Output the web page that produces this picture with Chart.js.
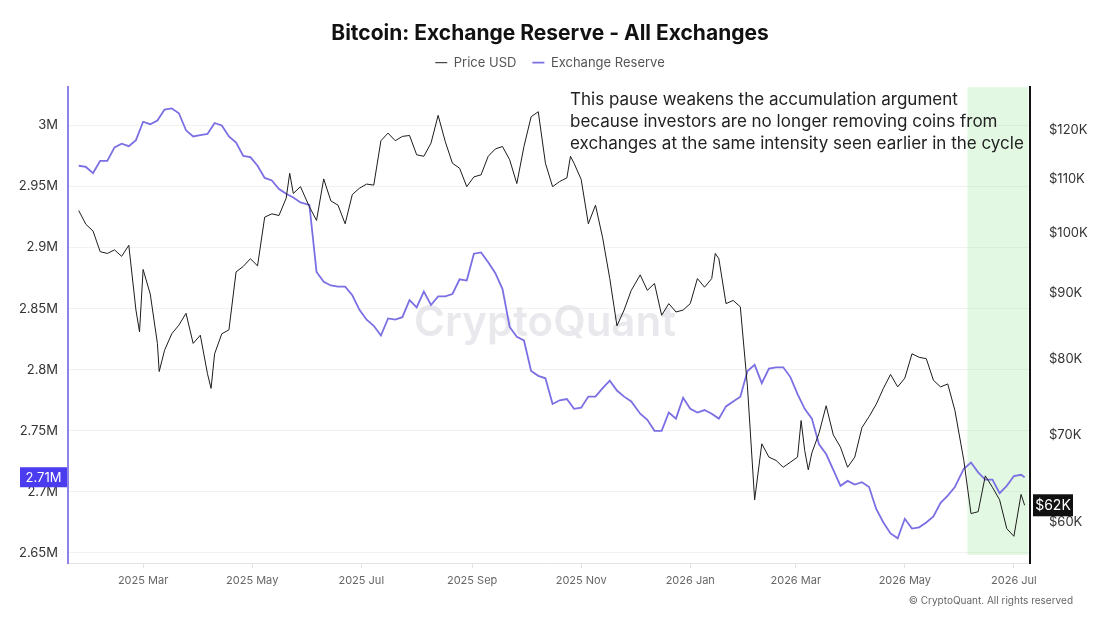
<!DOCTYPE html>
<html>
<head>
<meta charset="utf-8">
<script src="https://cdn.jsdelivr.net/npm/chart.js@4.4.1/dist/chart.umd.min.js"></script>
<style>
  html, body { margin: 0; padding: 0; background: #fff; }
  #wrap { width: 1100px; height: 619px; position: relative; }
</style>
</head>
<body>
<div id="wrap"><canvas id="reserveChart"></canvas></div>
<script>
/* Data */
const reserveDates = [
  '2025-01-24','2025-01-28','2025-02-01','2025-02-05','2025-02-09','2025-02-13','2025-02-17','2025-02-21','2025-02-25','2025-03-01',
  '2025-03-05','2025-03-09','2025-03-13','2025-03-17','2025-03-21','2025-03-25','2025-03-29','2025-04-02','2025-04-06','2025-04-10',
  '2025-04-14','2025-04-18','2025-04-22','2025-04-26','2025-04-30','2025-05-04','2025-05-08','2025-05-12','2025-05-16','2025-05-20',
  '2025-05-24','2025-05-28','2025-06-02','2025-06-06','2025-06-10','2025-06-14','2025-06-18','2025-06-22','2025-06-26','2025-06-30',
  '2025-07-04','2025-07-08','2025-07-12','2025-07-16','2025-07-20','2025-07-24','2025-07-28','2025-08-01','2025-08-05','2025-08-09',
  '2025-08-13','2025-08-17','2025-08-21','2025-08-25','2025-08-29','2025-09-02','2025-09-06','2025-09-10','2025-09-14','2025-09-18',
  '2025-09-22','2025-09-26','2025-09-30','2025-10-04','2025-10-08','2025-10-12','2025-10-16','2025-10-20','2025-10-24','2025-10-28',
  '2025-11-01','2025-11-05','2025-11-09','2025-11-13','2025-11-17','2025-11-21','2025-11-25','2025-11-29','2025-12-04','2025-12-08',
  '2025-12-12','2025-12-16','2025-12-20','2025-12-24','2025-12-28','2026-01-01','2026-01-05','2026-01-09','2026-01-13','2026-01-17',
  '2026-01-21','2026-01-25','2026-01-29','2026-02-02','2026-02-06','2026-02-10','2026-02-14','2026-02-18','2026-02-22','2026-02-26',
  '2026-03-02','2026-03-06','2026-03-10','2026-03-14','2026-03-18','2026-03-22','2026-03-26','2026-03-30','2026-04-03','2026-04-07',
  '2026-04-11','2026-04-15','2026-04-19','2026-04-23','2026-04-27','2026-05-01','2026-05-05','2026-05-09','2026-05-13','2026-05-17',
  '2026-05-21','2026-05-25','2026-05-29','2026-06-03','2026-06-07','2026-06-11','2026-06-15','2026-06-19','2026-06-23','2026-06-27',
  '2026-07-01','2026-07-05','2026-07-07'
];
// exchange reserve, millions of BTC
const reserveMillions = [
  2.967,2.966,2.961,2.971,2.971,2.982,2.985,2.983,2.988,3.003,
  3.001,3.004,3.013,3.014,3.010,2.996,2.991,2.992,2.993,3.002,
  3.000,2.991,2.986,2.975,2.974,2.967,2.957,2.955,2.948,2.944,
  2.941,2.937,2.935,2.880,2.872,2.869,2.868,2.868,2.861,2.849,
  2.841,2.836,2.828,2.842,2.841,2.843,2.857,2.851,2.864,2.853,
  2.860,2.860,2.862,2.874,2.873,2.895,2.896,2.888,2.879,2.866,
  2.835,2.827,2.824,2.799,2.795,2.793,2.772,2.775,2.776,2.768,
  2.769,2.778,2.778,2.785,2.791,2.783,2.778,2.774,2.764,2.759,
  2.750,2.750,2.765,2.760,2.777,2.768,2.765,2.767,2.764,2.760,
  2.770,2.774,2.778,2.799,2.804,2.789,2.801,2.802,2.802,2.794,
  2.780,2.768,2.760,2.739,2.731,2.718,2.705,2.709,2.706,2.708,
  2.704,2.686,2.675,2.666,2.662,2.678,2.670,2.671,2.675,2.680,
  2.691,2.697,2.704,2.719,2.724,2.716,2.710,2.710,2.699,2.705,
  2.713,2.714,2.712
];

const priceDates = [
  '2025-01-24','2025-01-28','2025-02-01','2025-02-05','2025-02-09','2025-02-13','2025-02-17','2025-02-21','2025-02-25','2025-02-27',
  '2025-03-01','2025-03-05','2025-03-09','2025-03-10','2025-03-13','2025-03-17','2025-03-21','2025-03-25','2025-03-29','2025-04-02',
  '2025-04-06','2025-04-08','2025-04-10','2025-04-14','2025-04-18','2025-04-22','2025-04-26','2025-04-30','2025-05-04','2025-05-08',
  '2025-05-12','2025-05-16','2025-05-20','2025-05-22','2025-05-24','2025-05-28','2025-06-02','2025-06-06','2025-06-10','2025-06-14',
  '2025-06-18','2025-06-22','2025-06-26','2025-06-30','2025-07-04','2025-07-08','2025-07-12','2025-07-16','2025-07-20','2025-07-24',
  '2025-07-28','2025-08-01','2025-08-05','2025-08-09','2025-08-13','2025-08-17','2025-08-21','2025-08-25','2025-08-29','2025-09-02',
  '2025-09-06','2025-09-10','2025-09-14','2025-09-18','2025-09-22','2025-09-26','2025-09-30','2025-10-04','2025-10-08','2025-10-12',
  '2025-10-16','2025-10-20','2025-10-24','2025-10-26','2025-10-28','2025-11-01','2025-11-05','2025-11-09','2025-11-13','2025-11-17',
  '2025-11-21','2025-11-25','2025-11-29','2025-12-04','2025-12-08','2025-12-12','2025-12-16','2025-12-20','2025-12-24','2025-12-28',
  '2026-01-01','2026-01-05','2026-01-09','2026-01-13','2026-01-15','2026-01-17','2026-01-21','2026-01-25','2026-01-29','2026-02-02',
  '2026-02-06','2026-02-10','2026-02-14','2026-02-18','2026-02-22','2026-02-26','2026-03-02','2026-03-04','2026-03-06','2026-03-08',
  '2026-03-10','2026-03-14','2026-03-18','2026-03-22','2026-03-26','2026-03-30','2026-04-03','2026-04-07','2026-04-11','2026-04-15',
  '2026-04-19','2026-04-23','2026-04-27','2026-05-01','2026-05-05','2026-05-09','2026-05-13','2026-05-17','2026-05-21','2026-05-25',
  '2026-05-29','2026-06-03','2026-06-07','2026-06-11','2026-06-15','2026-06-19','2026-06-23','2026-06-27','2026-07-01','2026-07-05',
  '2026-07-07'
];
// BTC price, thousands of USD
const priceK = [
  104.1,101.6,100.4,96.8,96.5,97.1,96.0,97.9,87.3,84.0,
  93.8,89.8,82.3,78.3,81.3,83.7,85.0,86.8,82.3,83.5,
  78.0,76.0,80.8,83.7,84.3,93.4,94.3,95.6,94.4,102.9,
  103.5,103.2,106.4,111.2,107.3,108.6,104.8,102.3,110.1,105.9,
  105.1,101.7,107.1,108.3,109.1,108.9,117.8,119.4,117.8,118.7,
  118.9,114.9,114.6,117.3,123.2,117.6,113.2,112.2,108.6,110.5,
  110.9,114.6,116.1,116.6,113.9,109.2,116.6,122.9,124.0,113.2,
  108.6,109.6,110.3,114.6,113.2,110.0,101.7,105.1,99.2,92.3,
  84.9,87.3,90.4,92.9,90.4,91.5,86.5,88.3,87.0,87.3,
  88.3,92.3,90.9,92.3,96.5,95.6,88.3,88.8,87.8,76.2,
  62.4,68.9,67.3,66.9,66.1,66.7,67.3,71.8,68.1,65.8,
  67.8,70.2,73.7,70.0,68.5,66.1,67.3,70.9,72.3,73.9,
  76.0,77.9,76.2,77.4,80.8,80.3,80.1,77.1,76.2,76.6,
  73.1,66.9,60.9,61.1,65.1,63.8,62.4,59.3,58.5,63.0,
  61.8
];

const tickDates = ['2025-03-01','2025-05-01','2025-07-01','2025-09-01','2025-11-01','2026-01-01','2026-03-01','2026-05-01','2026-07-01'];
const tickLabels = ['2025 Mar','2025 May','2025 Jul','2025 Sep','2025 Nov','2026 Jan','2026 Mar','2026 May','2026 Jul'];
const reserveTicks = [2.65, 2.7, 2.75, 2.8, 2.85, 2.9, 2.95, 3.0];
const priceTicks = [60, 70, 80, 90, 100, 110, 120];
const pauseWindow = ['2026-06-05', '2026-07-09'];
const noteLines = [
  'This pause weakens the accumulation argument',
  'because investors are no longer removing coins from',
  'exchanges at the same intensity seen earlier in the cycle'
];

const toMs = s => Date.parse(s + 'T00:00:00Z');

/* Overlays: green window, watermark, note, last-value tags, footer */
const overlay = {
    id: 'overlay',
    beforeInit(chart) {
        // tighten the legend block: shorter box, drawn a bit higher
        const legend = chart.legend;
        const fit = legend.fit;
        legend.fit = function () { fit.call(this); this.height -= 2; };
        const draw = legend.draw;
        legend.draw = function () {
            this.ctx.save();
            this.ctx.translate(0, -10);
            draw.call(this);
            this.ctx.restore();
        };
    },
    beforeDatasetsDraw(chart) {
        const {ctx, chartArea: a, scales: {x}} = chart;
        const x0 = x.getPixelForValue(toMs(pauseWindow[0]));
        const x1 = x.getPixelForValue(toMs(pauseWindow[1]));
        ctx.save();
        ctx.fillStyle = 'rgba(150, 230, 150, 0.28)';
        ctx.fillRect(x0, a.top, x1 - x0, a.bottom - a.top - 8);
        ctx.font = '600 42px Inter';
        ctx.fillStyle = 'rgba(205, 205, 215, 0.45)';
        ctx.textAlign = 'center';
        ctx.textBaseline = 'middle';
        ctx.fillText('CryptoQuant', (a.left + a.right) / 2 - 4, (a.top + a.bottom) / 2 - 2);
        ctx.restore();
    },
    afterDraw(chart) {
        const {ctx, chartArea: a, scales} = chart;
        ctx.save();
        ctx.fillStyle = '#222';
        ctx.font = '17px Inter';
        ctx.textAlign = 'left';
        ctx.textBaseline = 'middle';
        noteLines.forEach((t, i) => ctx.fillText(t, 570, 100 + i * 22));

        // last value tags
        const lastR = reserveMillions[reserveMillions.length - 1];
        const yR = scales.yReserve.getPixelForValue(lastR);
        ctx.fillStyle = '#4b3cf0';
        ctx.fillRect(20, yR - 10, a.left - 21, 20);
        ctx.fillStyle = '#fff';
        ctx.font = '13px Inter';
        ctx.textAlign = 'center';
        ctx.fillText(lastR.toFixed(2) + 'M', (20 + a.left - 1) / 2, yR + 1);

        const lastP = priceK[priceK.length - 1];
        const yP = scales.yPrice.getPixelForValue(lastP);
        ctx.fillStyle = '#111';
        ctx.fillRect(a.right + 3, yP - 11, 40, 22);
        ctx.fillStyle = '#fff';
        ctx.font = '14px Inter';
        ctx.fillText('$' + Math.round(lastP) + 'K', a.right + 23, yP + 1);

        ctx.fillStyle = '#666';
        ctx.font = '10px Inter';
        ctx.textAlign = 'right';
        ctx.fillText('\u00A9 CryptoQuant. All rights reserved', 1073, 601);
        ctx.restore();
    }
};

/* Create chart */
const my_chart = new Chart('reserveChart', {
    type: 'line',
    data: {
        datasets: [
            {
                label: 'Price USD',
                data: priceDates.map((d, i) => ({x: toMs(d), y: priceK[i]})),
                yAxisID: 'yPrice',
                borderColor: '#1c1c1c',
                backgroundColor: '#1c1c1c',
                borderWidth: 1,
                pointRadius: 0,
                tension: 0
            },
            {
                label: 'Exchange Reserve',
                data: reserveDates.map((d, i) => ({x: toMs(d), y: reserveMillions[i]})),
                yAxisID: 'yReserve',
                borderColor: '#7b6fe4',
                backgroundColor: '#7b6fe4',
                borderWidth: 1.8,
                pointRadius: 0,
                tension: 0
            }
        ]
    },
    plugins: [overlay],
    options: {
        responsive: true,
        maintainAspectRatio: false,
        animation: false,
        layout: { padding: 0 },
        scales: {
            x: {
                type: 'linear',
                min: toMs('2025-01-18'),
                max: toMs('2026-07-10'),
                afterBuildTicks: s => { s.ticks = tickDates.map(d => ({value: toMs(d)})); },
                afterFit: s => { s.height = 56; },
                ticks: {
                    callback: (v, i) => tickLabels[i],
                    autoSkip: false,
                    maxRotation: 0,
                    color: '#666',
                    padding: 6,
                    font: { family: 'Inter', size: 11 }
                },
                grid: { drawOnChartArea: false, tickLength: 5, color: '#e2e2e2' },
                border: { color: '#e2e2e2' }
            },
            yReserve: {
                type: 'linear',
                position: 'left',
                min: 2.6418,
                max: 3.0313,
                afterBuildTicks: s => { s.ticks = reserveTicks.map(v => ({value: v})); },
                afterFit: s => { s.width = 68; },
                ticks: {
                    callback: v => (+v.toFixed(2)) + 'M',
                    color: '#333',
                    padding: 10,
                    font: { family: 'Inter', size: 13 }
                },
                grid: { color: '#f1f1f1', drawTicks: false },
                border: { color: '#8c82e8', width: 2 }
            },
            yPrice: {
                type: 'logarithmic',
                position: 'right',
                min: 55.8,
                max: 129.5,
                afterBuildTicks: s => { s.ticks = priceTicks.map(v => ({value: v})); },
                afterFit: s => { s.width = 70; },
                ticks: {
                    callback: v => '$' + v + 'K',
                    color: '#333',
                    padding: 11,
                    font: { family: 'Inter', size: 13 }
                },
                grid: { display: false },
                border: { color: '#111', width: 2 }
            }
        },
        plugins: {
            title: {
                display: true,
                text: 'Bitcoin: Exchange Reserve - All Exchanges',
                color: '#111',
                padding: { top: 21, bottom: 4 },
                font: { family: 'Inter', size: 21, weight: 'bold' }
            },
            legend: {
                labels: {
                    usePointStyle: true,
                    pointStyle: 'line',
                    pointStyleWidth: 12,
                    color: '#555',
                    padding: 16,
                    font: { family: 'Inter', size: 13 }
                }
            },
            tooltip: { enabled: false }
        }
    }
});
</script>
</body>
</html>
